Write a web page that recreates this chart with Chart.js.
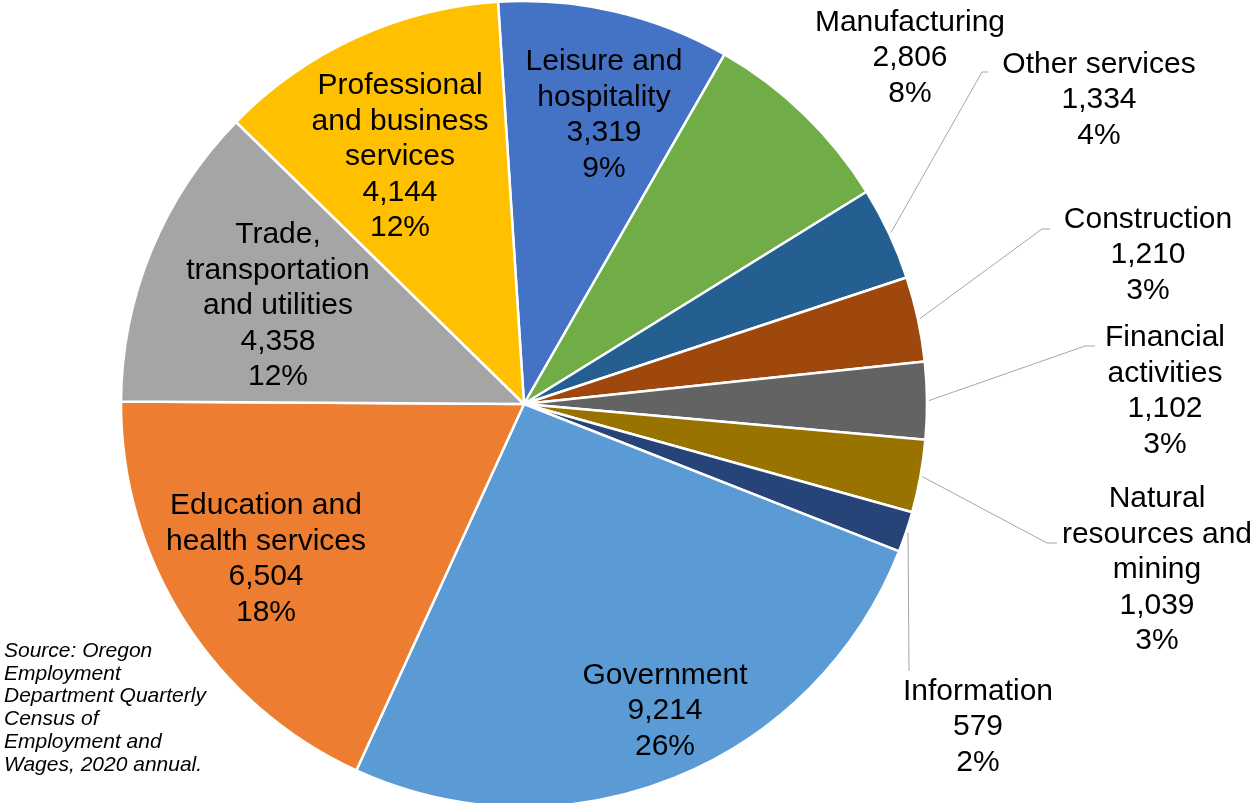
<!DOCTYPE html>
<html>
<head>
<meta charset="utf-8">
<script src="https://cdn.jsdelivr.net/npm/chart.js@4/dist/chart.umd.min.js"></script>
<style>
    html, body { margin: 0; padding: 0; background: #fff; }
    #wrap { position: relative; width: 1252px; height: 803px; }
</style>
</head>
<body>
<div id="wrap"><canvas id="chart-setores"></canvas></div>
<script>
// ================================================================
// Oregon employment by industry, 2020 annual (pie)
// ================================================================

const sectors = [
    'Leisure and hospitality', 'Manufacturing', 'Other services', 'Construction',
    'Financial activities', 'Natural resources and mining', 'Information',
    'Government', 'Education and health services',
    'Trade, transportation and utilities', 'Professional and business services'
];
const jobs = [3319, 2806, 1334, 1210, 1102, 1039, 579, 9214, 6504, 4358, 4144];

// wrapped text as in the picture
const sectorLines = [
    ['Leisure and', 'hospitality'],
    ['Manufacturing'],
    ['Other services'],
    ['Construction'],
    ['Financial', 'activities'],
    ['Natural', 'resources and', 'mining'],
    ['Information'],
    ['Government'],
    ['Education and', 'health services'],
    ['Trade,', 'transportation', 'and utilities'],
    ['Professional', 'and business', 'services']
];

const sourceLines = [
    'Source: Oregon', 'Employment', 'Department Quarterly',
    'Census of', 'Employment and', 'Wages, 2020 annual.'
];

const sliceColors = [
    '#4472C4', '#70AD47', '#255E91', '#9E480E', '#636363', '#997300',
    '#264478', '#5B9BD5', '#ED7D31', '#A5A5A5', '#FFC000'
];

// label block centre (offset from pie centre, px) and leader line bends
const labelLayout = [
    { dx: 80,   dy: -289 },
    { dx: 386,  dy: -346 },
    { dx: 575,  dy: -304, elbow: [458, -332], end: [464, -332] },
    { dx: 624,  dy: -149, elbow: [518, -175], end: [526, -175] },
    { dx: 641,  dy: -13,  elbow: [561, -58],  end: [571, -58] },
    { dx: 633,  dy: 166,  elbow: [523, 139],  end: [533, 139] },
    { dx: 454,  dy: 323,  elbow: [385, 267],  end: [385, 267] },
    { dx: 141,  dy: 307 },
    { dx: -258, dy: 155 },
    { dx: -246, dy: -98 },
    { dx: -124, dy: -247 }
];

const FONT = '"Liberation Sans", Arial, sans-serif';
const LINE_H = 35.5;

const pieLabels = {
    id: 'pieLabels',
    afterDraw(chart) {
        const ctx = chart.ctx;
        const meta = chart.getDatasetMeta(0);
        const total = jobs.reduce((a, b) => a + b, 0);

        ctx.save();
        ctx.fillStyle = '#000';
        ctx.textAlign = 'center';
        ctx.textBaseline = 'middle';
        ctx.font = '30px ' + FONT;

        meta.data.forEach((arc, i) => {
            const { x, y, startAngle, endAngle, outerRadius } =
                arc.getProps(['x', 'y', 'startAngle', 'endAngle', 'outerRadius'], true);
            const pos = labelLayout[i];

            if (pos.elbow) {
                const mid = (startAngle + endAngle) / 2;
                ctx.strokeStyle = '#A6A6A6';
                ctx.lineWidth = 1;
                ctx.beginPath();
                ctx.moveTo(x + Math.cos(mid) * (outerRadius + 2), y + Math.sin(mid) * (outerRadius + 2));
                ctx.lineTo(x + pos.elbow[0], y + pos.elbow[1]);
                ctx.lineTo(x + pos.end[0], y + pos.end[1]);
                ctx.stroke();
            }

            const lines = [
                ...sectorLines[i],
                jobs[i].toLocaleString('en-US'),
                Math.round(jobs[i] / total * 100) + '%'
            ];
            const top = y + pos.dy - (lines.length - 1) * LINE_H / 2;
            lines.forEach((t, k) => ctx.fillText(t, x + pos.dx, top + k * LINE_H));
        });

        // source note, bottom left
        ctx.textAlign = 'left';
        ctx.font = 'italic 21px ' + FONT;
        sourceLines.forEach((t, k) => ctx.fillText(t, 4, 651 + k * 22.8));
        ctx.restore();
    }
};

new Chart(document.getElementById('chart-setores'), {
    type: 'pie',
    data: {
        labels: sectors,
        datasets: [{
            data: jobs,
            backgroundColor: sliceColors,
            borderColor: '#fff',
            borderWidth: 2.5
        }]
    },
    options: {
        responsive: true,
        maintainAspectRatio: false,
        animation: false,
        rotation: -3.7,
        radius: 403,
        layout: { padding: { left: 120, right: 324, top: 5, bottom: 0 } },
        plugins: {
            legend: { display: false },
            tooltip: { enabled: false }
        }
    },
    plugins: [pieLabels]
});
</script>
</body>
</html>
